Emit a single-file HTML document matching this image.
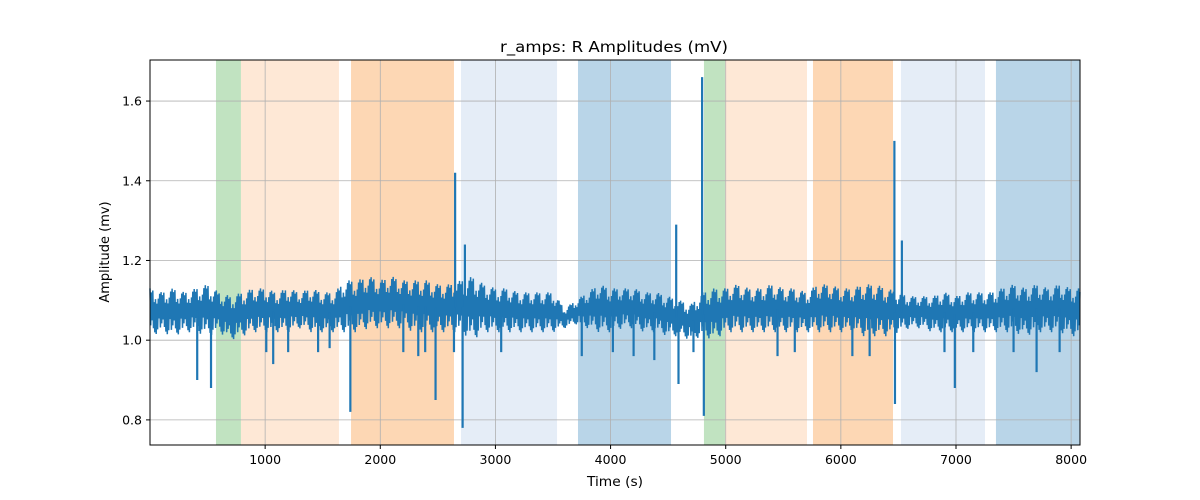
<!DOCTYPE html>
<html><head><meta charset="utf-8"><style>
html,body{margin:0;padding:0;background:#fff;}
svg{display:block;font-family:"DejaVu Sans","Liberation Sans",sans-serif;}
</style></head><body>
<svg id="chart" width="1200" height="500">
<rect width="1200" height="500" fill="#fff"/>
<g id="spans"></g><g id="grid"></g>
<g id="plot"></g>
<rect x="150" y="60" width="930" height="385" fill="none" stroke="#000" stroke-width="1"/>
<g id="axes"></g>
<text x="614" y="52" text-anchor="middle" font-size="15" textLength="228" lengthAdjust="spacingAndGlyphs">r_amps: R Amplitudes (mV)</text>
<text x="615" y="486" text-anchor="middle" font-size="13" textLength="56" lengthAdjust="spacingAndGlyphs">Time (s)</text>
<text transform="translate(109,252) rotate(-90)" text-anchor="middle" font-size="13">Amplitude (mv)</text>
</svg>
<script>
const spanStarts=[573,790,1746,2701,3717,4811,4994,5758,6522,7347];
const spanEnds=[790,1641,2640,3535,4525,4994,5706,6453,7252,8077];
const spanColors=["#c1e3c1","#fee8d6","#fdd7b4","#e5edf7","#b9d5e8","#c1e3c1","#fee8d6","#fdd7b4","#e5edf7","#b9d5e8"];
const xTicks=[1000,2000,3000,4000,5000,6000,7000,8000];
const yTicks=[0.8,1.0,1.2,1.4,1.6];
const yTickLabels=["0.8","1.0","1.2","1.4","1.6"];
const envStep=100;
const bandHigh=[1.13,1.12,1.13,1.12,1.13,1.14,1.12,1.11,1.12,1.13,
1.13,1.12,1.13,1.12,1.13,1.12,1.12,1.15,1.15,1.16,
1.15,1.16,1.15,1.15,1.15,1.14,1.14,1.15,1.16,1.14,
1.13,1.13,1.12,1.12,1.12,1.12,1.08,1.10,1.12,1.14,
1.13,1.13,1.13,1.12,1.12,1.11,1.10,1.09,1.12,1.13,
1.13,1.14,1.13,1.13,1.14,1.13,1.13,1.12,1.14,1.14,
1.13,1.13,1.14,1.14,1.13,1.12,1.11,1.11,1.11,1.12,
1.11,1.12,1.12,1.12,1.13,1.14,1.13,1.14,1.13,1.14,1.13];
const bandLow=[1.01,1.02,1.01,1.02,1.02,1.01,1.02,1.00,1.01,1.02,
1.02,1.02,1.02,1.03,1.02,1.02,1.02,1.02,1.02,1.03,
1.03,1.03,1.03,1.02,1.02,1.02,1.02,1.02,1.00,1.02,
1.02,1.02,1.02,1.02,1.02,1.02,1.03,1.04,1.03,1.02,
1.02,1.03,1.03,1.02,1.02,1.01,1.01,1.00,1.01,1.00,
1.02,1.02,1.02,1.02,1.02,1.02,1.02,1.02,1.02,1.02,
1.02,1.02,1.01,1.01,1.01,1.02,1.03,1.03,1.02,1.02,
1.02,1.02,1.02,1.02,1.02,1.02,1.01,1.02,1.02,1.02,1.01];
const spikeTimes=[410,530,1010,1070,1200,1460,1560,1740,2200,2330,2390,2480,2640,2650,2715,2735,3050,3750,4020,4200,4380,4570,4590,4720,4795,4810,5450,5600,6100,6250,6465,6470,6530,6900,6990,7150,7500,7700,7900];
const spikeValues=[0.90,0.88,0.97,0.94,0.97,0.97,0.98,0.82,0.97,0.96,0.97,0.85,0.97,1.42,0.78,1.24,0.97,0.96,0.97,0.96,0.95,1.29,0.89,0.97,1.66,0.81,0.96,0.97,0.96,0.96,1.50,0.84,1.25,0.97,0.88,0.97,0.97,0.92,0.97];
const X0=0,X1=8077,Y0=0.737,Y1=1.703,L=150,R=1080,T=60,B=445;
const sx=v=>L+(v-X0)/(X1-X0)*(R-L);
const sy=v=>B-(v-Y0)/(Y1-Y0)*(B-T);
const NS="http://www.w3.org/2000/svg";
function mk(tag,parent){const e=document.createElementNS(NS,tag);document.getElementById(parent).appendChild(e);return e;}
spanStarts.forEach((s,i)=>{const r=mk('rect','spans');


r.setAttribute('x',sx(s));r.setAttribute('y',T);r.setAttribute('width',sx(spanEnds[i])-sx(s));r.setAttribute('height',B-T);r.setAttribute('fill',spanColors[i]);});
xTicks.forEach(t=>{const g=mk('line','grid');


g.setAttribute('x1',sx(t));g.setAttribute('x2',sx(t));g.setAttribute('y1',T);g.setAttribute('y2',B);g.setAttribute('stroke','#b0b0b0');g.setAttribute('stroke-width','0.8');
const tk=mk('line','axes');tk.setAttribute('x1',sx(t));tk.setAttribute('x2',sx(t));tk.setAttribute('y1',B);tk.setAttribute('y2',B+4);tk.setAttribute('stroke','#000');
const tx=mk('text','axes');


tx.setAttribute('x',sx(t));tx.setAttribute('y',B+19);tx.setAttribute('text-anchor','middle');tx.setAttribute('font-size','12.5');tx.textContent=t;});
yTicks.forEach((t,i)=>{const g=mk('line','grid');


g.setAttribute('x1',L);g.setAttribute('x2',R);g.setAttribute('y1',sy(t));g.setAttribute('y2',sy(t));g.setAttribute('stroke','#b0b0b0');g.setAttribute('stroke-width','0.8');
const tk=mk('line','axes');tk.setAttribute('x1',L-4);tk.setAttribute('x2',L);tk.setAttribute('y1',sy(t));tk.setAttribute('y2',sy(t));tk.setAttribute('stroke','#000');
const tx=mk('text','axes');


tx.setAttribute('x',L-8);tx.setAttribute('y',sy(t)+4.5);tx.setAttribute('text-anchor','end');tx.setAttribute('font-size','12.5');tx.textContent=yTickLabels[i];});
const env=(arr,t)=>{const f=t/envStep;const k=Math.min(arr.length-2,Math.floor(f));const u=Math.min(1,f-k);return arr[k]*(1-u)+arr[k+1]*u;};
// fixed rendering pattern for swing depth within the band (style, not data)
const swing=[1,0.55,0.85,0.35,0.95,0.7,0.45,0.9,0.6,1,0.4,0.8,0.65,0.3,0.9,0.75];
const pts=[];let flip=0,n=0;
for(let t=0;t<=X1;t+=6){const hi=env(bandHigh,t),lo=env(bandLow,t),mid=(hi+lo)/2,h=(hi-lo)/2*swing[n%swing.length];
const v=flip?mid-h:mid+h;flip=1-flip;n++;pts.push(sx(t).toFixed(1)+','+sy(v).toFixed(1));}
const line=mk('polyline','plot');


line.setAttribute('points',pts.join(' '));
line.setAttribute('fill','none');line.setAttribute('stroke','#1f77b4');line.setAttribute('stroke-width','1.5');
spikeTimes.forEach((t,i)=>{const mid=(env(bandHigh,t)+env(bandLow,t))/2;const s=mk('line','plot');


s.setAttribute('x1',sx(t));s.setAttribute('x2',sx(t));s.setAttribute('y1',sy(mid));s.setAttribute('y2',sy(spikeValues[i]));s.setAttribute('stroke','#1f77b4');s.setAttribute('stroke-width','2.2');});
</script>
</body></html>
